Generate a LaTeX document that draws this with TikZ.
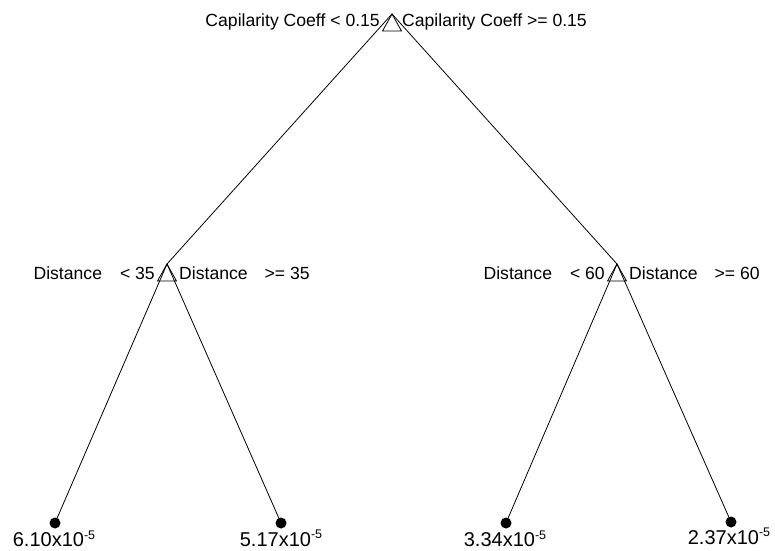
\documentclass[tikz,border=0pt]{standalone}
\usepackage{fontspec}
\setmainfont{Liberation Sans}
\begin{document}
\begin{tikzpicture}[x=1pt,y=1pt,
  lbl/.style={font=\fontsize{17.6}{20}\selectfont, inner sep=0pt},
  leaflbl/.style={font=\fontsize{20}{24}\selectfont, inner sep=0pt, anchor=base},
  edge/.style={draw=black, line width=0.8pt},
  tri/.style={draw=black, line width=0.8pt, line join=miter},
  leafdot/.style={circle, fill=black, minimum size=11pt, inner sep=0pt}]
\useasboundingbox (0,0) rectangle (775,550);
% split points (triangle apexes)
\coordinate (R) at (392,536);
\coordinate (L) at (167,286);
\coordinate (M) at (617,286);
% leaves
\node[leafdot] (l1) at (55,27) {};
\node[leafdot] (l2) at (281,27) {};
\node[leafdot] (l3) at (506,27) {};
\node[leafdot] (l4) at (731,28) {};
% connectors
\draw[edge] (R) -- (L);
\draw[edge] (R) -- (M);
\draw[edge] (L) -- (l1.center);
\draw[edge] (L) -- (l2.center);
\draw[edge] (M) -- (l3.center);
\draw[edge] (M) -- (l4.center);
% triangles
\foreach \p in {R,L,M} {
  \draw[tri] (\p) -- ++(-9.5,-17) -- ++(19,0) -- cycle;
}
% split labels
\node[lbl, anchor=base east] (rl) at ([xshift=-12pt,yshift=-13pt]R) {Capilarity Coeff < 0.15};
\node[lbl, anchor=base west] (rr) at ([xshift=10pt,yshift=-13pt]R) {Capilarity Coeff >= 0.15};
\node[lbl, anchor=base east] (ll) at ([xshift=-12pt,yshift=-15pt]L) {Distance\hspace{18pt}< 35};
\node[lbl, anchor=base west] (lr) at ([xshift=12pt,yshift=-15pt]L) {Distance\hspace{17pt}>= 35};
\node[lbl, anchor=base east] (ml) at ([xshift=-12pt,yshift=-15pt]M) {Distance\hspace{18pt}< 60};
\node[lbl, anchor=base west] (mr) at ([xshift=12pt,yshift=-15pt]M) {Distance\hspace{17pt}>= 60};
% leaf labels
\node[leaflbl] (t1) at (54,3.5) {6.10x10\raisebox{7.5pt}{\fontsize{12.5}{12.5}\selectfont -5}};
\node[leaflbl] (t2) at (281,4) {5.17x10\raisebox{7.5pt}{\fontsize{12.5}{12.5}\selectfont -5}};
\node[leaflbl] (t3) at (505,3.5) {3.34x10\raisebox{7.5pt}{\fontsize{12.5}{12.5}\selectfont -5}};
\node[leaflbl] (t4) at (729,6) {2.37x10\raisebox{7.5pt}{\fontsize{12.5}{12.5}\selectfont -5}};
\end{tikzpicture}
\end{document}
